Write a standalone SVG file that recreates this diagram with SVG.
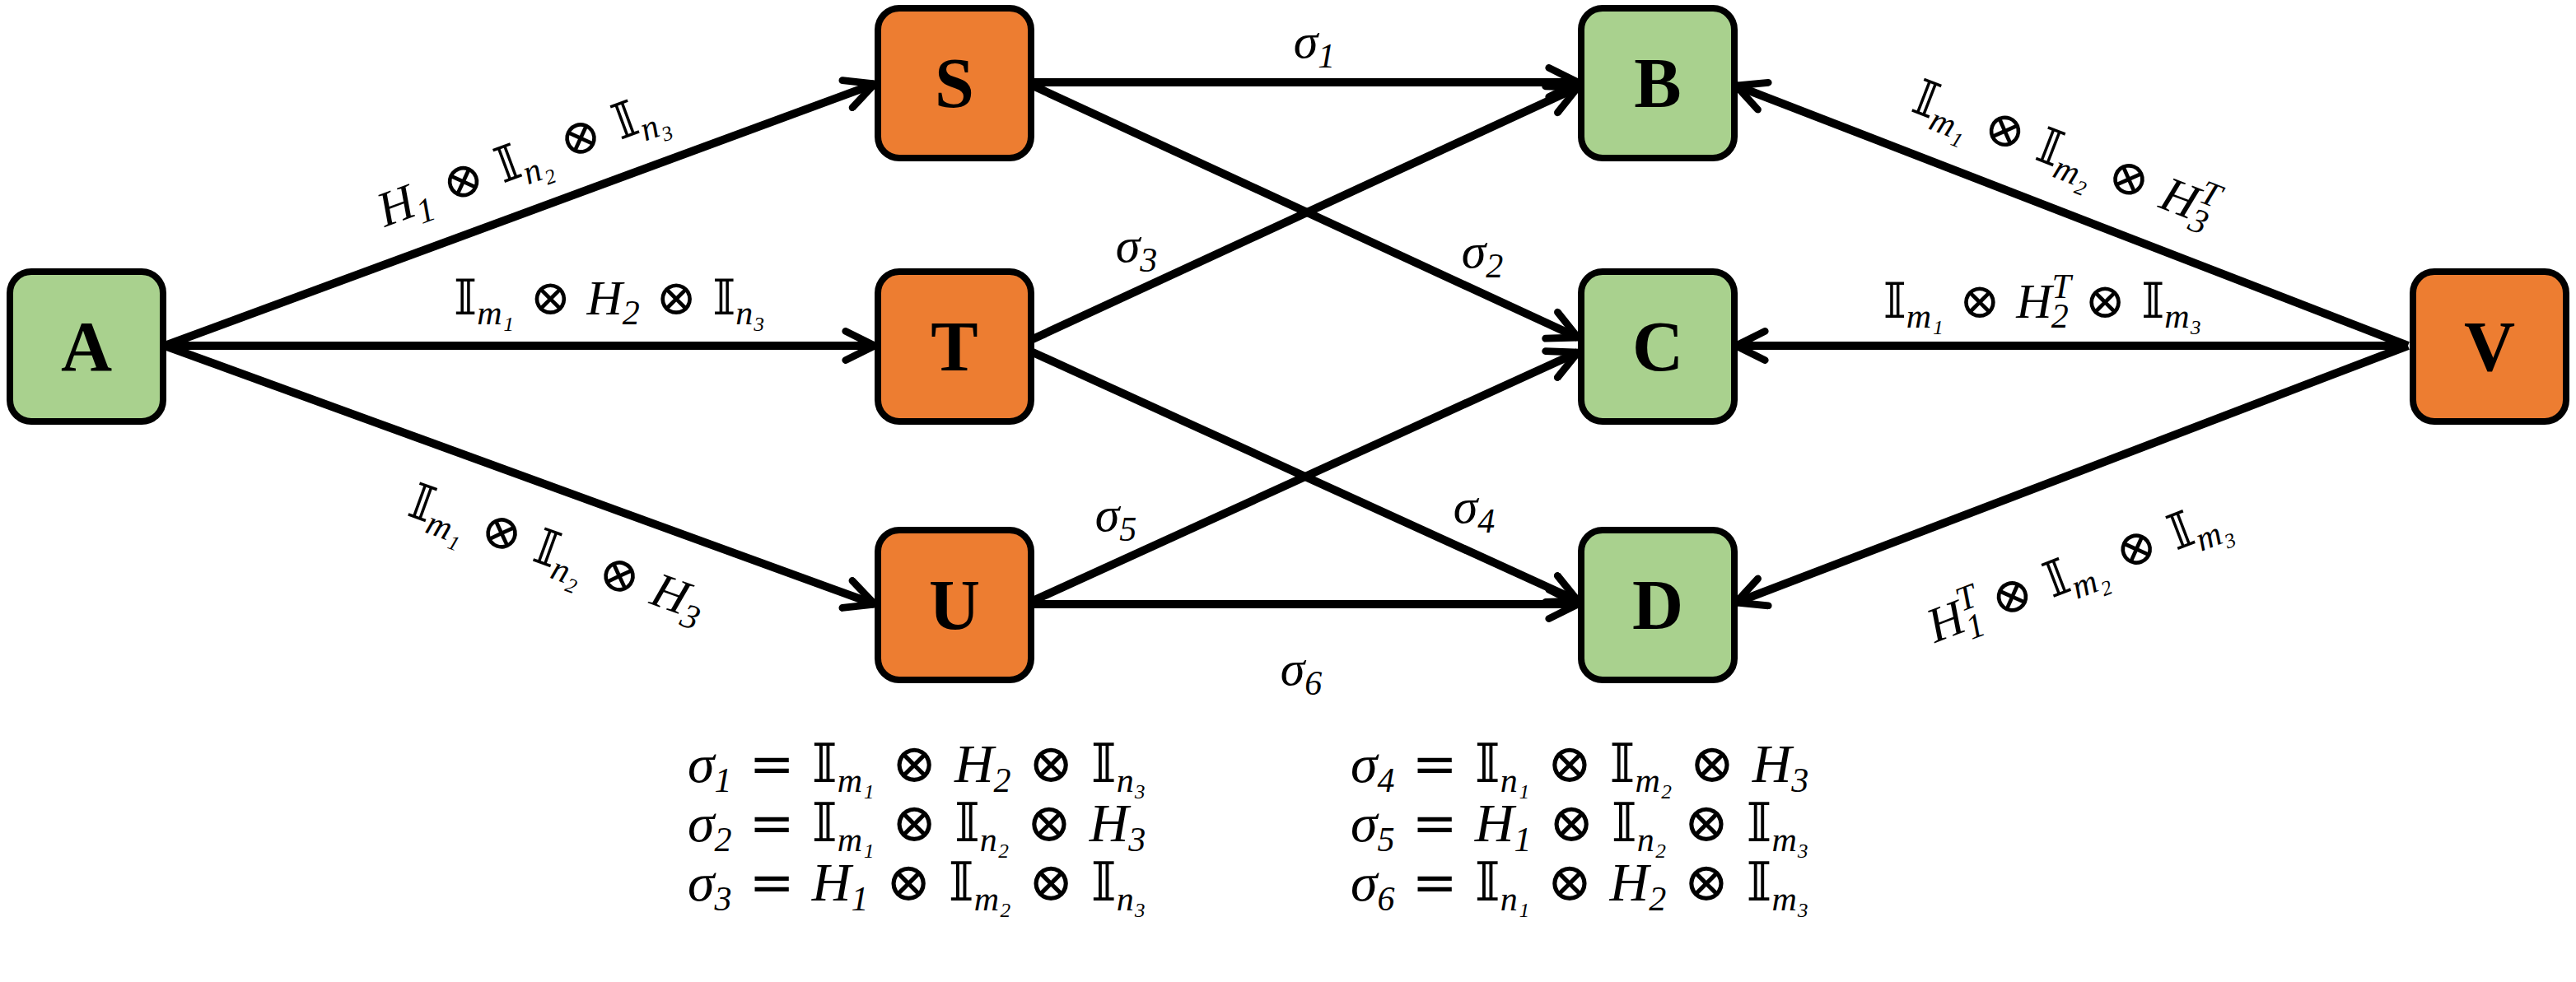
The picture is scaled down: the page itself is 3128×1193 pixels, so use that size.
<svg xmlns="http://www.w3.org/2000/svg" width="3128" height="1193" viewBox="0 0 3128 1193">
<style>
.g{fill:#A9D18E;stroke:#000;stroke-width:8}
.o{fill:#ED7D31;stroke:#000;stroke-width:8}
.n{font-family:"Liberation Serif","DejaVu Serif",serif;font-weight:bold;font-size:86px;text-anchor:middle;fill:#000}
.e{stroke:#000;stroke-width:10;fill:none;marker-end:url(#ah)}
.m{font-family:"Liberation Serif","DejaVu Serif",serif;font-style:italic;font-size:60px;fill:#000;text-anchor:middle}
.m .u{font-style:normal;font-family:"DejaVu Serif",serif}
.s{font-size:42px}
</style>
<defs>
<marker id="ah" viewBox="0 0 40 40" refX="38" refY="20" markerWidth="44" markerHeight="44" markerUnits="userSpaceOnUse" orient="auto">
<path d="M6,4 L38,20 L6,36" fill="none" stroke="#000" stroke-width="8" stroke-linecap="round" stroke-linejoin="miter"/>
</marker>
</defs>
<g id="connectors">
<line class="e" x1="200" y1="420" x2="1062" y2="102"/>
<line class="e" x1="200" y1="420" x2="1062" y2="420"/>
<line class="e" x1="200" y1="420" x2="1062" y2="734"/>
<line class="e" x1="1254" y1="100" x2="1916" y2="100"/>
<line class="e" x1="1254" y1="104" x2="1916" y2="410"/>
<line class="e" x1="1254" y1="412" x2="1916" y2="106"/>
<line class="e" x1="1254" y1="428" x2="1916" y2="730"/>
<line class="e" x1="1254" y1="730" x2="1916" y2="428"/>
<line class="e" x1="1254" y1="734" x2="1916" y2="734"/>
<line class="e" x1="2924" y1="420" x2="2108" y2="104"/>
<line class="e" x1="2924" y1="420" x2="2108" y2="420"/>
<line class="e" x1="2924" y1="420" x2="2108" y2="732"/>
<g id="labels">
<text class="m" transform="translate(640,212) rotate(-20.3)">H<tspan class="s" dy="12">1</tspan><tspan dy="-12" class="u"> ⊗ 𝕀</tspan><tspan class="s" dy="12">n₂</tspan><tspan dy="-12" class="u"> ⊗ 𝕀</tspan><tspan class="s" dy="12">n₃</tspan></text>
<text class="m" x="740" y="382"><tspan class="u">𝕀</tspan><tspan class="s" dy="12">m₁</tspan><tspan dy="-12" class="u"> ⊗ </tspan>H<tspan class="s" dy="12">2</tspan><tspan dy="-12" class="u"> ⊗ 𝕀</tspan><tspan class="s" dy="12">n₃</tspan></text>
<text class="m" transform="translate(670,690) rotate(20)"><tspan class="u">𝕀</tspan><tspan class="s" dy="12">m₁</tspan><tspan dy="-12" class="u"> ⊗ 𝕀</tspan><tspan class="s" dy="12">n₂</tspan><tspan dy="-12" class="u"> ⊗ </tspan>H<tspan class="s" dy="12">3</tspan></text>
<text class="m" transform="translate(2500,205) rotate(21.2)"><tspan class="u">𝕀</tspan><tspan class="s" dy="12">m₁</tspan><tspan dy="-12" class="u"> ⊗ 𝕀</tspan><tspan class="s" dy="12">m₂</tspan><tspan dy="-12" class="u"> ⊗ </tspan>H<tspan class="s" dy="-24">T</tspan><tspan class="s" dy="36" dx="-24">3</tspan></text>
<text class="m" x="2480" y="386"><tspan class="u">𝕀</tspan><tspan class="s" dy="12">m₁</tspan><tspan dy="-12" class="u"> ⊗ </tspan>H<tspan class="s" dy="-24">T</tspan><tspan class="s" dy="36" dx="-24">2</tspan><tspan dy="-12" class="u"> ⊗ 𝕀</tspan><tspan class="s" dy="12">m₃</tspan></text>
<text class="m" transform="translate(2530,712) rotate(-21)">H<tspan class="s" dy="-24">T</tspan><tspan class="s" dy="36" dx="-24">1</tspan><tspan dy="-12" class="u"> ⊗ 𝕀</tspan><tspan class="s" dy="12">m₂</tspan><tspan dy="-12" class="u"> ⊗ 𝕀</tspan><tspan class="s" dy="12">m₃</tspan></text>
<text class="m" x="1596" y="70">σ<tspan class="s" dy="12">1</tspan></text>
<text class="m" x="1800" y="325">σ<tspan class="s" dy="12">2</tspan></text>
<text class="m" x="1380" y="318">σ<tspan class="s" dy="12">3</tspan></text>
<text class="m" x="1790" y="635">σ<tspan class="s" dy="12">4</tspan></text>
<text class="m" x="1355" y="645">σ<tspan class="s" dy="12">5</tspan></text>
<text class="m" x="1580" y="832">σ<tspan class="s" dy="12">6</tspan></text>
</g>
</g>
<g id="A"><rect class="g" x="12" y="330" width="186" height="182" rx="26"/><text class="n" x="105" y="450">A</text></g>
<g id="S"><rect class="o" x="1066" y="10" width="186" height="182" rx="26"/><text class="n" x="1159" y="130">S</text></g>
<g id="T"><rect class="o" x="1066" y="330" width="186" height="182" rx="26"/><text class="n" x="1159" y="450">T</text></g>
<g id="U"><rect class="o" x="1066" y="644" width="186" height="182" rx="26"/><text class="n" x="1159" y="764">U</text></g>
<g id="B"><rect class="g" x="1920" y="10" width="186" height="182" rx="26"/><text class="n" x="2013" y="130">B</text></g>
<g id="C"><rect class="g" x="1920" y="330" width="186" height="182" rx="26"/><text class="n" x="2013" y="450">C</text></g>
<g id="D"><rect class="g" x="1920" y="644" width="186" height="182" rx="26"/><text class="n" x="2013" y="764">D</text></g>
<g id="V"><rect class="o" x="2930" y="330" width="186" height="182" rx="26"/><text class="n" x="3023" y="450">V</text></g>
<g id="legend" class="m" style="text-anchor:start;font-size:66px">
<text x="835" y="950">σ<tspan class="s" dy="12">1</tspan><tspan dy="-12" class="u"> = 𝕀</tspan><tspan class="s" dy="12">m₁</tspan><tspan dy="-12" class="u"> ⊗ </tspan>H<tspan class="s" dy="12">2</tspan><tspan dy="-12" class="u"> ⊗ 𝕀</tspan><tspan class="s" dy="12">n₃</tspan></text>
<text x="835" y="1022">σ<tspan class="s" dy="12">2</tspan><tspan dy="-12" class="u"> = 𝕀</tspan><tspan class="s" dy="12">m₁</tspan><tspan dy="-12" class="u"> ⊗ 𝕀</tspan><tspan class="s" dy="12">n₂</tspan><tspan dy="-12" class="u"> ⊗ </tspan>H<tspan class="s" dy="12">3</tspan></text>
<text x="835" y="1094">σ<tspan class="s" dy="12">3</tspan><tspan dy="-12" class="u"> = </tspan>H<tspan class="s" dy="12">1</tspan><tspan dy="-12" class="u"> ⊗ 𝕀</tspan><tspan class="s" dy="12">m₂</tspan><tspan dy="-12" class="u"> ⊗ 𝕀</tspan><tspan class="s" dy="12">n₃</tspan></text>
<text x="1640" y="950">σ<tspan class="s" dy="12">4</tspan><tspan dy="-12" class="u"> = 𝕀</tspan><tspan class="s" dy="12">n₁</tspan><tspan dy="-12" class="u"> ⊗ 𝕀</tspan><tspan class="s" dy="12">m₂</tspan><tspan dy="-12" class="u"> ⊗ </tspan>H<tspan class="s" dy="12">3</tspan></text>
<text x="1640" y="1022">σ<tspan class="s" dy="12">5</tspan><tspan dy="-12" class="u"> = </tspan>H<tspan class="s" dy="12">1</tspan><tspan dy="-12" class="u"> ⊗ 𝕀</tspan><tspan class="s" dy="12">n₂</tspan><tspan dy="-12" class="u"> ⊗ 𝕀</tspan><tspan class="s" dy="12">m₃</tspan></text>
<text x="1640" y="1094">σ<tspan class="s" dy="12">6</tspan><tspan dy="-12" class="u"> = 𝕀</tspan><tspan class="s" dy="12">n₁</tspan><tspan dy="-12" class="u"> ⊗ </tspan>H<tspan class="s" dy="12">2</tspan><tspan dy="-12" class="u"> ⊗ 𝕀</tspan><tspan class="s" dy="12">m₃</tspan></text>
</g>
</svg>
